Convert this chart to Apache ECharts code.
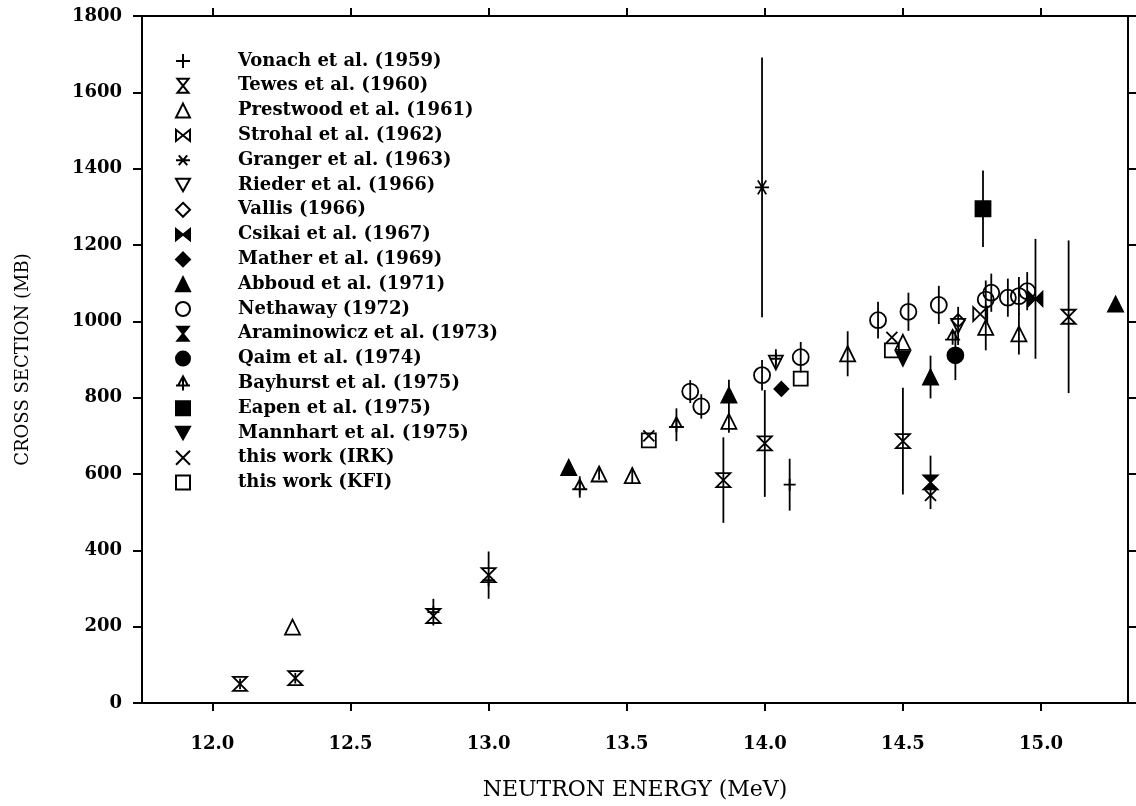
<!DOCTYPE html>
<html>
<head>
<meta charset="utf-8">
<script src="https://cdn.jsdelivr.net/npm/echarts@6/dist/echarts.min.js"></script>
<style>
  html, body { margin: 0; padding: 0; background: #fff; }
  #main { width: 1136px; height: 806px; }
</style>
</head>
<body>
<div id="main"></div>
<script>
// tick labels
var xTicks = [12.0, 12.5, 13.0, 13.5, 14.0, 14.5, 15.0];
var yTicks = [0, 200, 400, 600, 800, 1000, 1200, 1400, 1600, 1800];

// each point: [energy MeV, cross section mb, error mb]
var vonach = [[12.80, 238, 35], [13.00, 322, 0], [14.04, 902, 25], [14.09, 572, 68]];
var tewes = [[12.10, 50, 14], [12.30, 65, 14], [12.80, 228, 0], [13.00, 335, 62], [13.85, 584, 112], [14.00, 680, 140], [14.50, 686, 140], [15.10, 1012, 200]];
var prestwood = [[12.29, 199, 0], [13.40, 600, 15], [13.52, 596, 20], [13.87, 738, 30], [14.30, 915, 59], [14.50, 945, 0], [14.80, 984, 60], [14.92, 967, 54]];
var strohal = [[14.78, 1019, 0]];
var granger = [[13.99, 1351, 340]];
var rieder = [[14.04, 892, 0], [14.70, 988, 50]];
var vallis = [[14.70, 1002, 0]];
var csikai = [[14.98, 1059, 157]];
var mather = [[14.06, 823, 0]];
var abboud = [[13.29, 617, 0], [13.87, 807, 40], [14.60, 854, 56], [15.27, 1045, 0]];
var nethaway = [[13.73, 816, 30], [13.77, 777, 32], [13.99, 859, 40], [14.13, 906, 40], [14.41, 1003, 48], [14.52, 1025, 50], [14.63, 1043, 50], [14.80, 1057, 50], [14.82, 1075, 50], [14.88, 1062, 50], [14.92, 1066, 50], [14.95, 1079, 50]];
var araminowicz = [[14.60, 578, 70]];
var qaim = [[14.69, 911, 65]];
var bayhurst = [[13.33, 566, 28], [13.68, 729, 43], [14.68, 958, 0]];
var eapen = [[14.79, 1295, 100]];
var mannhart = [[14.50, 902, 0]];
var irk = [[13.58, 700, 0], [14.46, 958, 0], [14.60, 544, 0]];
var kfi = [[13.58, 688, 0], [14.13, 850, 0], [14.46, 924, 0]];

var S = {
    plus: 'path://M10,0L10,20M0,10L20,10',
    hourglass: 'path://M2,0L18,0L2,20L18,20Z',
    bowtie: 'path://M0,2L0,18L20,2L20,18Z',
    star: 'path://M0,10L20,10M4,3L16,17M4,17L16,3',
    down: 'path://M0,0L20,0L10,18Z',
    bay: 'path://M10,0L3,13L17,13ZM10,0L10,20M0,13L20,13',
    cross: 'path://M0,0L20,20M0,20L20,0'
};

var defs = [
    ['Vonach et al. (1959)', vonach, S.plus, 12, false],
    ['Tewes et al. (1960)', tewes, S.hourglass, 14, false],
    ['Prestwood et al. (1961)', prestwood, 'triangle', 15, false],
    ['Strohal et al. (1962)', strohal, S.bowtie, 14, false],
    ['Granger et al. (1963)', granger, S.star, 14, false],
    ['Rieder et al. (1966)', rieder, S.down, 14, false],
    ['Vallis (1966)', vallis, 'diamond', 13, false],
    ['Csikai et al. (1967)', csikai, S.bowtie, 14, true],
    ['Mather et al. (1969)', mather, 'diamond', 14, true],
    ['Abboud et al. (1971)', abboud, 'triangle', 15, true],
    ['Nethaway (1972)', nethaway, 'circle', 16, false],
    ['Araminowicz et al. (1973)', araminowicz, S.hourglass, 14, true],
    ['Qaim et al. (1974)', qaim, 'circle', 16, true],
    ['Bayhurst et al. (1975)', bayhurst, S.bay, 15, false],
    ['Eapen et al. (1975)', eapen, 'rect', 15, true],
    ['Mannhart et al. (1975)', mannhart, S.down, 14, true],
    ['this work (IRK)', irk, S.cross, 11, false],
    ['this work (KFI)', kfi, 'rect', 14, false]
];

var myChart = echarts.init(document.getElementById('main'));

var series = [];
var bars = [];
defs.forEach(function (d) {
    d[1].forEach(function (p) {
        if (p[2] > 0) bars.push([p[0], p[1] - p[2], p[1] + p[2]]);
    });
    series.push({
        name: d[0],
        type: 'scatter',
        symbol: d[2],
        symbolSize: d[3],
        z: 3,
        data: d[1].map(function (p) { return [p[0], p[1]]; }),
        itemStyle: {
            color: d[4] ? '#000' : 'rgba(255,255,255,0)',
            borderColor: '#000',
            borderWidth: 1.8,
            opacity: 1
        }
    });
});

series.push({
    type: 'custom',
    z: 2,
    data: bars,
    encode: { x: 0, y: [1, 2] },
    renderItem: function (params, api) {
        var a = api.coord([api.value(0), api.value(1)]);
        var b = api.coord([api.value(0), api.value(2)]);
        return {
            type: 'line',
            shape: { x1: a[0], y1: a[1], x2: b[0], y2: b[1] },
            style: { stroke: '#000', lineWidth: 1.8 }
        };
    }
});

var axisFont = { fontFamily: 'DejaVu Serif', fontSize: 18, fontWeight: 'bold', color: '#000' };
var xMin = 11.745, xMax = 15.315;

var option = {
    backgroundColor: '#fff',
    animation: false,
    grid: { left: 142, right: 8, top: 16, bottom: 94 },
    legend: {
        orient: 'vertical',
        left: 175,
        top: 52,
        padding: 0,
        itemWidth: 14,
        itemHeight: 14,
        itemGap: 6.8,
        data: defs.map(function (d) { return d[0]; }),
        textStyle: {
            fontFamily: 'DejaVu Serif',
            fontSize: 18,
            fontWeight: 'bold',
            lineHeight: 18,
            color: '#000',
            padding: [0, 0, 0, 43]
        }
    },
    xAxis: [{
        type: 'value',
        min: xMin,
        max: xMax,
        name: 'NEUTRON ENERGY (MeV)',
        nameLocation: 'middle',
        nameGap: 76,
        nameTextStyle: { fontFamily: 'DejaVu Serif', fontSize: 22, color: '#000' },
        axisLine: { onZero: false, lineStyle: { color: '#000', width: 2 } },
        axisTick: { customValues: xTicks, length: 8, lineStyle: { color: '#000', width: 2 } },
        axisLabel: Object.assign({
            customValues: xTicks,
            margin: 32,
            formatter: function (v) { return v.toFixed(1); }
        }, axisFont),
        splitLine: { show: false }
    }, {
        type: 'value',
        position: 'top',
        min: xMin,
        max: xMax,
        axisLine: { onZero: false, lineStyle: { color: '#000', width: 2 } },
        axisTick: { customValues: xTicks, length: 8, lineStyle: { color: '#000', width: 2 } },
        axisLabel: { show: false },
        splitLine: { show: false }
    }],
    yAxis: [{
        type: 'value',
        min: 0,
        max: 1800,
        interval: 200,
        name: 'CROSS SECTION (MB)',
        nameLocation: 'middle',
        nameGap: 110,
        nameTextStyle: { fontFamily: 'DejaVu Serif', fontSize: 18, color: '#000' },
        axisLine: { onZero: false, lineStyle: { color: '#000', width: 2 } },
        axisTick: { customValues: yTicks, length: 9, lineStyle: { color: '#000', width: 2 } },
        axisLabel: Object.assign({
            customValues: yTicks,
            margin: 20,
            formatter: function (v) { return String(v); }
        }, axisFont),
        splitLine: { show: false }
    }, {
        type: 'value',
        position: 'right',
        min: 0,
        max: 1800,
        interval: 200,
        axisLine: { onZero: false, lineStyle: { color: '#000', width: 2 } },
        axisTick: { customValues: yTicks, length: 8, lineStyle: { color: '#000', width: 2 } },
        axisLabel: { show: false },
        splitLine: { show: false }
    }],
    series: series
};

myChart.setOption(option);
</script>
</body>
</html>
